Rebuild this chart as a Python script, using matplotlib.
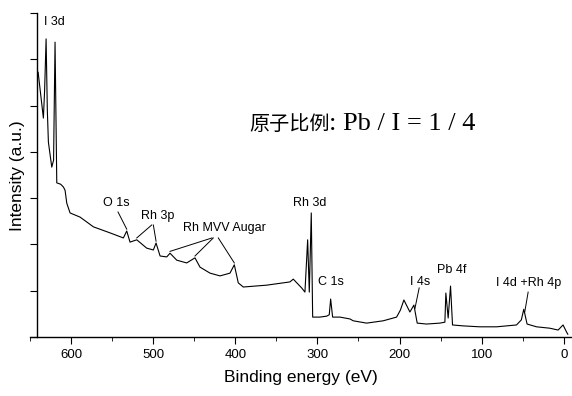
import numpy as np
import matplotlib
matplotlib.use("Agg")
import matplotlib.pyplot as plt
from matplotlib.ticker import MultipleLocator, NullFormatter

plt.rcParams['font.family'] = ['Liberation Sans', 'DejaVu Sans']

# ---- spectrum (binding energy eV, intensity a.u.) ----
energy = [640.1, 633.7, 632.2, 630.4, 628.9, 627.6, 623.5, 621.3, 619.5, 617.4,
          612.6, 609.3, 607.3, 605.2, 601.2, 589.0, 572.8, 552.6, 536.3, 532.2,
          528.2, 520.0, 507.9, 499.8, 496.5, 491.6, 483.5, 479.5, 471.3, 459.2,
          449.1, 443.0, 430.8, 418.6, 406.5, 401.2, 396.4, 390.3, 361.8, 333.5,
          329.4, 319.2, 315.2, 311.9, 309.9, 307.5, 305.8, 297.0, 288.8, 285.6,
          283.9, 281.5, 272.6, 260.4, 256.4, 240.1, 219.9, 203.6, 199.0, 194.7,
          187.4, 182.5, 178.5, 167.1, 150.9, 144.8, 143.6, 140.8, 137.9, 135.5,
          122.5, 102.2, 81.9, 57.6, 51.7, 48.7, 44.7, 33.2, 17.0, 6.9,
          0.9, -3.3, -4.9]
intensity = [5.72, 4.73, 5.33, 6.44, 4.90, 4.21, 3.67, 3.82, 6.37, 3.33,
             3.30, 3.24, 3.17, 2.89, 2.68, 2.59, 2.38, 2.25, 2.14, 2.29,
             2.05, 2.10, 1.92, 1.88, 2.03, 1.75, 1.73, 1.81, 1.66, 1.60,
             1.71, 1.51, 1.38, 1.32, 1.38, 1.56, 1.17, 1.08, 1.12, 1.19,
             1.25, 1.06, 0.97, 2.10, 0.97, 2.68, 0.43, 0.43, 0.45, 0.48,
             0.82, 0.43, 0.43, 0.39, 0.35, 0.30, 0.35, 0.43, 0.58, 0.80,
             0.54, 0.69, 0.30, 0.28, 0.30, 0.32, 0.95, 0.41, 1.10, 0.26,
             0.24, 0.22, 0.22, 0.26, 0.37, 0.60, 0.28, 0.22, 0.19, 0.15,
             0.26, 0.11, 0.06]

# peak labels: text, label position (eV, a.u.), leader-line targets (eV)
labels = ["I 3d", "O 1s", "Rh 3p", "Rh MVV Augar", "Rh 3d", "C 1s", "I 4s", "Pb 4f", "I 4d +Rh 4p"]
label_pos = [(620.7, 6.80), (545.2, 2.89), (494.1, 2.61), (413.2, 2.35), (309.1, 2.89),
             (283.6, 1.19), (175.2, 1.19), (136.3, 1.45), (42.6, 1.17)]
leader_start = [[], [(542.8, 2.70)], [(501.8, 2.42), (499.8, 2.42)],
                [(428.4, 2.14), (426.8, 2.14), (420.7, 2.14)], [], [],
                [(176.1, 1.06)], [], [(43.4, 0.97)]]
leader_end = [[], [532.2], [520.0, 496.5], [479.5, 449.1, 401.2], [], [],
              [181.3], [], [47.5]]

xticks = [600, 500, 400, 300, 200, 100, 0]

# ===================== Plotting ======================== #
W, H = 572, 396
fig = plt.figure(figsize=(W / 100, H / 100), dpi=100)
ax = fig.add_axes([30 / W, (H - 337) / H, 542 / W, 324 / H])

ax.plot(energy, intensity, color='black', linewidth=0.8)
ax.set_xlim(650, -10)
ax.set_ylim(0, 7)

ax.spines['top'].set_visible(False)
ax.spines['right'].set_visible(False)
ax.spines['left'].set_position(('data', 641))
ax.spines['left'].set_linewidth(1.0)
ax.spines['bottom'].set_linewidth(1.0)

ax.set_xticks(xticks)
ax.xaxis.set_minor_locator(MultipleLocator(50))
ax.set_yticks(range(0, 8))
ax.yaxis.set_major_formatter(NullFormatter())
ax.tick_params(axis='x', which='major', direction='out', length=5, labelsize=9.5, pad=4)
ax.tick_params(axis='x', which='minor', direction='out', length=3)
ax.tick_params(axis='y', which='major', direction='out', length=5)

ax.set_xlabel("Binding energy (eV)", fontsize=12.5, labelpad=6)
fig.text(18 / W, 1 - 176 / H, "Intensity (a.u.)", rotation=90, fontsize=12.5,
         ha='center', va='center')

for txt, pos, starts, ends in zip(labels, label_pos, leader_start, leader_end):
    ax.text(pos[0], pos[1], txt, fontsize=9, ha='center', va='center')
    for s, e in zip(starts, ends):
        ey = np.interp(e, energy[::-1], intensity[::-1])
        ax.plot([s[0], e], [s[1], ey + 0.04], color='black', linewidth=0.7)

# title: Chinese part in sans, formula in serif
fig.text(249 / W, 1 - 130 / H, "原子比例", fontsize=14.5,
         family=['Noto Sans CJK SC', 'DejaVu Sans'], ha='left', va='baseline')
fig.text(329 / W, 1 - 130 / H, ": Pb / I = 1 / 4", fontsize=19,
         family=['Liberation Serif', 'DejaVu Serif'], ha='left', va='baseline')

fig.savefig("out.png", dpi=100)
